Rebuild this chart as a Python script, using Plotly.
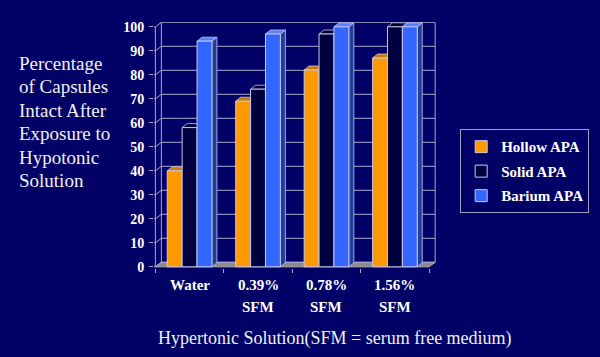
import plotly.graph_objects as go

# ---------------- data ----------------
categories_line1 = ["Water", "0.39%", "0.78%", "1.56%"]
categories_line2 = ["", "SFM", "SFM", "SFM"]
series_names = ["Hollow APA", "Solid APA", "Barium APA"]
hollow = [40, 69, 82, 87]
solid = [58, 74, 97, 100]
barium = [94, 97, 100, 100]
y_ticks = list(range(0, 101, 10))
y_title_lines = ["Percentage", "of Capsules", "Intact After", "Exposure to", "Hypotonic", "Solution"]
x_title = "Hypertonic Solution(SFM = serum free medium)"

series_values = [hollow, solid, barium]

# ---------------- style ----------------
front_colors = ["#FF9900", "#000040", "#3366FF"]
top_colors = ["#CC7A00", "#000033", "#5580FF"]
side_colors = ["#995C00", "#000026", "#1F3D99"]
BG = "#000066"
EDGE = "#C8C8E8"
GRID = "#A8A8CC"
FLOOR = "#8A8A8A"
TXT = "#F0F0F0"
SERIF = "Liberation Serif"

# geometry (pixels)
L, R, T, B = 153.6, 164.2, 21.7, 88.8
X_RANGE = [-0.52, 3.6]
Y_RANGE = [-0.5, 102]
W = 600 - L - R
H = 357 - T - B
px_x = W / (X_RANGE[1] - X_RANGE[0])
px_y = H / (Y_RANGE[1] - Y_RANGE[0])
wdx, wdy = 6 / px_x, 4.5 / px_y      # wall depth
bdx, bdy = 5 / px_x, 4 / px_y        # bar depth
bar_w = 0.2175
group_off = -1.5 * bar_w


def xp(px):
    return (px - L) / W


def yp(py):
    return 1 - (py - T) / H


n = len(categories_line1)
fig = go.Figure()

# floor
fx = [-0.5, n - 0.5, n - 0.5 + wdx, -0.5 + wdx, -0.5]
fy = [0, 0, wdy, wdy, 0]
fig.add_trace(go.Scatter(x=fx, y=fy, mode="lines", fill="toself", fillcolor=FLOOR,
                         line=dict(color="#B0B0B0", width=1), showlegend=False,
                         hoverinfo="skip", zorder=-1))

# walls / gridlines
gx, gy = [], []
for v in y_ticks:
    gx += [-0.5 + wdx, n - 0.5 + wdx, None]
    gy += [v + wdy, v + wdy, None]
    gx += [X_RANGE[0], -0.5, -0.5 + wdx, None]
    gy += [v, v, v + wdy, None]
top = y_ticks[-1]
gx += [-0.5 + wdx, -0.5 + wdx, None, n - 0.5 + wdx, n - 0.5 + wdx, None, -0.5, -0.5, None]
gy += [wdy, top + wdy, None, wdy, top + wdy, None, 0, top, None]
fig.add_trace(go.Scatter(x=gx, y=gy, mode="lines", line=dict(color=GRID, width=1),
                         showlegend=False, hoverinfo="skip", zorder=-1))

# 3D faces
for k, vals in enumerate(series_values):
    tx, ty, sx, sy = [], [], [], []
    for i, v in enumerate(vals):
        x0 = i + group_off + k * bar_w
        x1 = x0 + bar_w
        tx += [x0, x1, x1 + bdx, x0 + bdx, x0, None]
        ty += [v, v, v + bdy, v + bdy, v, None]
        sx += [x1, x1, x1 + bdx, x1 + bdx, x1, None]
        sy += [0, v, v + bdy, bdy, 0, None]
    fig.add_trace(go.Scatter(x=sx, y=sy, mode="lines", fill="toself", fillcolor=side_colors[k],
                             line=dict(color=EDGE, width=0.8), showlegend=False,
                             hoverinfo="skip", zorder=1))
    fig.add_trace(go.Scatter(x=tx, y=ty, mode="lines", fill="toself", fillcolor=top_colors[k],
                             line=dict(color=EDGE, width=0.8), showlegend=False,
                             hoverinfo="skip", zorder=1))

# front faces (bars)
for k, vals in enumerate(series_values):
    fig.add_trace(go.Bar(x=list(range(n)), y=vals, width=bar_w, offset=group_off + k * bar_w,
                         name=series_names[k], legendgroup=series_names[k],
                         marker=dict(color=front_colors[k], line=dict(color=EDGE, width=1)),
                         zorder=2))

annotations = []
for i in range(n):
    annotations.append(dict(x=i, y=yp(285.3), xref="x", yref="paper", text=categories_line1[i],
                            showarrow=False, xanchor="center", yanchor="middle",
                            font=dict(family=SERIF, size=15, color="white", weight="bold")))
    if categories_line2[i]:
        annotations.append(dict(x=i, y=yp(307.7), xref="x", yref="paper", text=categories_line2[i],
                                showarrow=False, xanchor="center", yanchor="middle",
                                font=dict(family=SERIF, size=15, color="white", weight="bold")))

line_centers = [63, 86.5, 110, 133.5, 157, 180.5]
for txt, cy in zip(y_title_lines, line_centers):
    annotations.append(dict(x=xp(17), y=yp(cy), xref="paper", yref="paper", text=txt,
                            showarrow=False, xanchor="left", yanchor="middle",
                            font=dict(family=SERIF, size=19, color=TXT)))
annotations.append(dict(x=xp(334.5), y=yp(339), xref="paper", yref="paper", text=x_title,
                        showarrow=False, xanchor="center", yanchor="middle",
                        font=dict(family=SERIF, size=18, color=TXT)))

fig.update_layout(
    template="none",
    width=600, height=357,
    margin=dict(l=L, r=R, t=T, b=B, pad=0, autoexpand=False),
    paper_bgcolor=BG, plot_bgcolor=BG,
    barmode="overlay",
    showlegend=True,
    legend=dict(x=xp(460), y=yp(129.3), xanchor="left", yanchor="top",
                bgcolor=BG, bordercolor="#A0A0C0", borderwidth=1,
                font=dict(family=SERIF, size=15, color="white", weight="bold"),
                traceorder="grouped", tracegroupgap=2, itemwidth=30),
    annotations=annotations,
    xaxis=dict(range=X_RANGE, showgrid=False, zeroline=False, showline=False, automargin=False,
               tickmode="array", tickvals=[i - 0.5 for i in range(n + 1)],
               ticktext=[""] * (n + 1), ticks="outside", ticklen=4, tickcolor=GRID,
               fixedrange=True),
    yaxis=dict(range=Y_RANGE, showgrid=False, zeroline=False, showline=False, automargin=False,
               tickmode="array", tickvals=y_ticks, ticks="outside", ticklen=4, tickcolor=GRID,
               ticklabelstandoff=2,
               tickfont=dict(family=SERIF, size=14, color="white", weight="bold"),
               fixedrange=True),
)

fig.write_html("out.html", config={"displayModeBar": False},
               post_script="document.body.style.margin='0';document.body.style.background='" + BG + "';")
